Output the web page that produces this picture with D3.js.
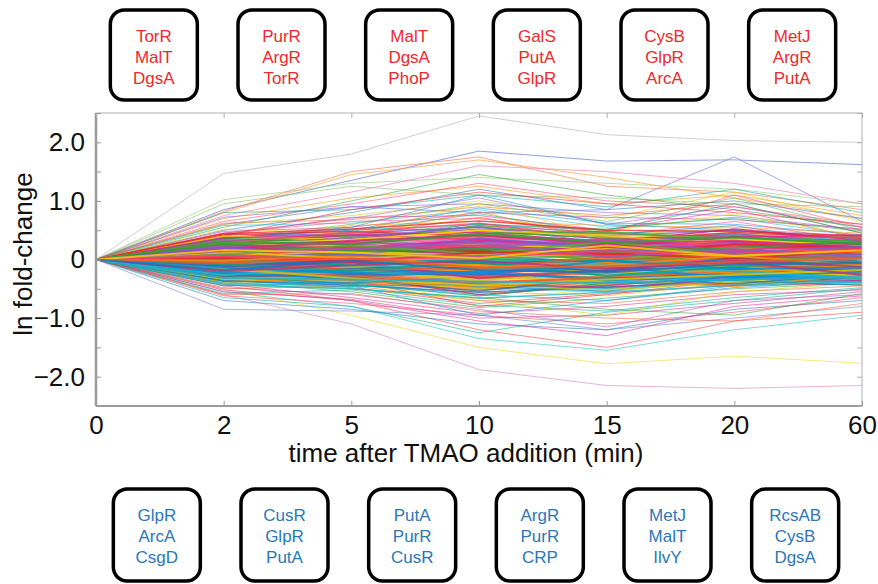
<!DOCTYPE html>
<html>
<head>
<meta charset="utf-8">
<script src="https://cdn.jsdelivr.net/npm/d3@7"></script>
<style>
html,body{margin:0;padding:0;background:#fff;}
svg{display:block;font-family:"Liberation Sans",Arial,sans-serif;}
</style>
</head>
<body>
<svg id="chart" width="878" height="584"></svg>
<script>
// ---- data ----
const timeLabels = ["0","2","5","10","15","20","60"];
const yTickValues = [-2.5,-2,-1.5,-1,-0.5,0,0.5,1,1.5,2,2.5];
const yTickLabels = {"-2":"\u22122.0","-1":"\u22121.0","0":"0","1":"1.0","2":"2.0"};
const xAxisTitle = "time after TMAO addition (min)";
const yAxisTitle = "ln fold-change";
const upRegulators = [
  ["TorR","MalT","DgsA"],["PurR","ArgR","TorR"],["MalT","DgsA","PhoP"],
  ["GalS","PutA","GlpR"],["CysB","GlpR","ArcA"],["MetJ","ArgR","PutA"]
];
const downRegulators = [
  ["GlpR","ArcA","CsgD"],["CusR","GlpR","PutA"],["PutA","PurR","CusR"],
  ["ArgR","PurR","CRP"],["MetJ","MalT","IlvY"],["RcsAB","CysB","DgsA"]
];
const palette = ["#e8202a","#1f6fc0","#2ca02c","#ff8c00","#e0208a","#17b8d0","#9b59b6","#d4c800",
                 "#ff3b6b","#0090e0","#58b030","#f05a28","#7a5cd0","#00a890","#ffd000","#c03080"];

// extreme profiles (ln fold-change at 0,2,5,10,15,20,60 min)
const extremeProfiles = [
  [0,1.47,1.80,2.45,2.13,2.03,2.00],
  [0,0.85,1.35,1.85,1.68,1.70,1.62],
  [0,0.60,0.90,0.80,0.85,1.75,0.65],
  [0,-0.60,-1.10,-1.88,-2.15,-2.20,-2.15],
  [0,-0.50,-0.95,-1.50,-1.78,-1.65,-1.77],
  [0,-0.55,-0.80,-1.35,-1.55,-1.20,-0.95],
  [0,-0.45,-0.70,-1.20,-1.50,-1.05,-0.90],
  [0,-0.85,-0.88,-0.95,-1.20,-1.00,-0.80],
  [0,1.02,1.30,1.40,1.30,1.20,0.95],
  [0,0.95,1.25,1.10,1.05,0.95,0.90],
  [0,0.82,1.50,1.75,1.25,1.15,0.85],
  [0,0.80,1.45,1.70,1.40,1.05,0.70],
  [0,0.75,1.15,1.60,1.50,1.30,0.95]
];
const extremeColors = ["#b8b8c8","#6070d0","#7080e0","#e090c0","#f0e040","#40c8c8","#f06060",
                       "#8090e0","#a0d080","#90c878","#f08060","#ffa040","#f080b0"];

const upperProfiles = [
  [0,0.70,1.05,1.25,0.95,1.10,0.75],[0,0.65,0.95,1.30,1.00,0.90,0.60],
  [0,0.80,0.85,1.10,0.90,1.20,0.80],[0,0.55,1.00,1.45,1.10,0.85,0.55],
  [0,0.60,0.75,1.00,0.70,1.15,0.65],[0,0.72,0.90,0.95,0.80,0.75,0.50],
  [0,0.50,0.80,1.20,0.85,1.00,0.70],[0,0.45,0.70,1.05,0.60,0.90,0.55],
  [0,0.62,0.68,0.90,0.75,0.95,0.45],[0,0.40,0.85,1.15,0.95,0.80,0.60],
  [0,0.58,0.62,0.85,0.55,0.70,0.40],[0,0.35,0.60,0.95,0.65,1.05,0.50],
  [0,0.48,0.55,0.80,0.72,0.68,0.52],[0,0.42,0.72,0.75,0.50,0.85,0.35],
  [0,0.38,0.50,0.88,0.62,0.60,0.42],[0,0.52,0.45,0.70,0.48,0.78,0.38],
  [0,0.30,0.58,0.65,0.58,0.55,0.45],[0,0.44,0.40,0.72,0.40,0.65,0.30],
  [0,0.25,0.48,0.78,0.45,0.50,0.36],[0,0.34,0.42,0.60,0.52,0.72,0.48],
  [0,0.28,0.35,0.55,0.38,0.46,0.28],[0,0.36,0.52,0.50,0.35,0.40,0.32],
  [0,0.22,0.30,0.62,0.42,0.58,0.25],[0,0.31,0.44,0.46,0.30,0.52,0.40],
  [0,0.26,0.38,0.42,0.28,0.35,0.22],[0,0.40,0.33,0.58,0.46,0.30,0.26],
  [0,0.18,0.28,0.40,0.34,0.44,0.30],[0,0.20,0.36,0.35,0.22,0.38,0.18],
  [0,0.29,0.25,0.48,0.36,0.28,0.24],[0,0.15,0.22,0.30,0.26,0.33,0.20],
  [0,0.35,0.55,1.10,0.60,0.50,0.30],[0,0.25,0.45,0.95,0.40,0.55,0.20],
  [0,0.30,0.40,0.82,0.30,0.45,0.25],[0,0.45,0.65,0.70,0.45,1.10,0.55],
  [0,0.35,0.50,0.60,0.50,0.95,0.45]
];

const lowerProfiles = [
  [0,-0.70,-0.85,-1.10,-1.20,-0.85,-0.70],[0,-0.62,-0.75,-0.95,-1.10,-0.90,-0.65],
  [0,-0.55,-0.68,-1.00,-0.95,-0.75,-0.55],[0,-0.48,-0.60,-0.85,-1.15,-0.70,-0.60],
  [0,-0.58,-0.52,-0.78,-0.88,-0.65,-0.48],[0,-0.42,-0.65,-0.92,-0.80,-0.60,-0.52],
  [0,-0.50,-0.45,-0.70,-0.75,-0.55,-0.45],[0,-0.38,-0.55,-0.82,-0.66,-0.50,-0.40],
  [0,-0.45,-0.40,-0.60,-0.70,-0.48,-0.36],[0,-0.35,-0.48,-0.75,-0.58,-0.44,-0.42],
  [0,-0.40,-0.36,-0.55,-0.62,-0.40,-0.34],[0,-0.32,-0.42,-0.68,-0.50,-0.38,-0.30],
  [0,-0.28,-0.38,-0.50,-0.55,-0.35,-0.28],[0,-0.36,-0.30,-0.45,-0.48,-0.32,-0.38],
  [0,-0.25,-0.33,-0.58,-0.42,-0.30,-0.25],[0,-0.30,-0.26,-0.40,-0.45,-0.28,-0.32],
  [0,-0.22,-0.28,-0.48,-0.36,-0.26,-0.22],[0,-0.27,-0.22,-0.36,-0.40,-0.24,-0.27],
  [0,-0.18,-0.24,-0.42,-0.32,-0.22,-0.20],[0,-0.24,-0.19,-0.32,-0.35,-0.20,-0.24],
  [0,-0.65,-0.80,-1.25,-0.90,-0.70,-0.50],[0,-0.52,-0.70,-1.05,-1.30,-0.80,-0.62],
  [0,-0.60,-0.58,-0.88,-1.00,-1.05,-0.75],[0,-0.44,-0.50,-0.65,-0.85,-0.95,-0.58],
  [0,-0.30,-0.45,-0.95,-0.70,-0.45,-0.30],[0,-0.20,-0.35,-0.80,-0.60,-0.35,-0.28],
  [0,-0.35,-0.50,-0.70,-0.95,-0.55,-0.40]
];

const middleProfiles = [
  [0,0.32,0.40,0.48,0.36,0.42,0.30],[0,-0.34,-0.38,-0.50,-0.42,-0.36,-0.32],
  [0,0.38,0.45,0.55,0.40,0.50,0.34],[0,-0.36,-0.44,-0.56,-0.46,-0.40,-0.36],
  [0,0.28,0.36,0.52,0.44,0.38,0.28],[0,-0.30,-0.40,-0.52,-0.38,-0.44,-0.30],
  [0,0.42,0.48,0.40,0.32,0.46,0.36],[0,-0.40,-0.46,-0.42,-0.50,-0.32,-0.40],
  [0,0.34,0.30,0.58,0.38,0.34,0.40],[0,-0.32,-0.28,-0.60,-0.44,-0.30,-0.36],
  [0,0.26,0.42,0.46,0.30,0.52,0.32],[0,-0.26,-0.36,-0.46,-0.54,-0.28,-0.34],
  [0,0.40,0.34,0.50,0.42,0.36,0.24],[0,-0.38,-0.32,-0.48,-0.36,-0.46,-0.26],
  [0,0.30,0.46,0.62,0.34,0.40,0.38],[0,-0.28,-0.42,-0.62,-0.40,-0.34,-0.28],
  [0,0.36,0.28,0.44,0.48,0.30,0.34],[0,-0.34,-0.26,-0.44,-0.52,-0.38,-0.42],
  [0,0.22,0.38,0.56,0.28,0.44,0.26],[0,-0.22,-0.34,-0.54,-0.30,-0.42,-0.24],
  [0,0.33,0.24,0.36,0.30,0.40,0.22],[0,-0.31,-0.24,-0.38,-0.34,-0.28,-0.22],
  [0,0.44,0.52,0.66,0.50,0.48,0.40],[0,-0.42,-0.50,-0.66,-0.56,-0.44,-0.38],
  [0,0.24,0.32,0.40,0.46,0.36,0.30],[0,-0.24,-0.30,-0.42,-0.48,-0.34,-0.30],
  [0,0.37,0.42,0.34,0.26,0.38,0.42],[0,-0.37,-0.40,-0.30,-0.30,-0.36,-0.44],
  [0,0.27,0.34,0.50,0.40,0.26,0.20],[0,-0.29,-0.36,-0.48,-0.34,-0.24,-0.20]
];

const coreProfiles = [
  [0,0.12,0.18,0.25,0.15,0.22,0.10],[0,-0.10,-0.15,-0.20,-0.12,-0.18,-0.08],
  [0,0.05,0.10,0.08,0.12,0.06,0.04],[0,-0.05,-0.02,-0.10,-0.06,-0.04,-0.12],
  [0,0.20,0.15,0.30,0.18,0.25,0.12],[0,-0.18,-0.22,-0.28,-0.20,-0.15,-0.18],
  [0,0.08,0.02,0.14,0.05,0.10,0.16],[0,-0.12,-0.08,-0.04,-0.16,-0.10,-0.02],
  [0,0.16,0.24,0.20,0.28,0.18,0.22],[0,-0.20,-0.14,-0.30,-0.24,-0.26,-0.16],
  [0,0.02,0.06,-0.04,0.02,0.08,-0.02],[0,-0.02,0.04,0.06,-0.05,0.02,0.06],
  [0,0.24,0.20,0.34,0.22,0.30,0.18],[0,-0.26,-0.20,-0.34,-0.28,-0.22,-0.26],
  [0,0.10,0.14,0.18,0.10,0.14,0.08],[0,-0.08,-0.12,-0.16,-0.10,-0.08,-0.14],
  [0,0.14,0.08,0.22,0.14,0.06,0.12],[0,-0.14,-0.06,-0.22,-0.18,-0.12,-0.06],
  [0,0.18,0.26,0.12,0.20,0.28,0.14],[0,-0.16,-0.24,-0.12,-0.22,-0.28,-0.20],
  [0,0.06,0.12,0.28,0.08,0.16,0.02],[0,-0.06,-0.10,-0.26,-0.08,-0.06,-0.04],
  [0,0.22,0.12,0.16,0.26,0.12,0.20],[0,-0.22,-0.16,-0.14,-0.26,-0.18,-0.22],
  [0,0.04,-0.02,0.10,0.04,-0.04,0.08],[0,-0.04,0.02,-0.08,0.00,0.04,-0.06],
  [0,0.28,0.22,0.26,0.18,0.34,0.24],[0,-0.28,-0.26,-0.24,-0.32,-0.24,-0.14],
  [0,0.11,0.20,0.32,0.24,0.20,0.14],[0,-0.11,-0.18,-0.36,-0.14,-0.20,-0.10],
  [0,0.17,0.10,0.04,0.12,0.18,0.06],[0,-0.17,-0.08,-0.02,-0.14,-0.16,-0.12],
  [0,0.09,0.16,0.12,0.20,0.10,0.18],[0,-0.09,-0.14,-0.18,-0.04,-0.12,-0.16],
  [0,0.26,0.30,0.22,0.30,0.24,0.28],[0,-0.24,-0.30,-0.20,-0.36,-0.30,-0.28],
  [0,0.13,0.04,0.20,0.16,0.08,0.00],[0,-0.13,-0.04,-0.12,-0.20,-0.02,-0.10],
  [0,0.03,0.08,0.16,-0.02,0.12,0.10],[0,-0.03,-0.06,0.02,-0.10,-0.08,0.00],
  [0,0.19,0.28,0.38,0.32,0.22,0.16],[0,-0.19,-0.28,-0.40,-0.30,-0.20,-0.24],
  [0,0.07,0.14,0.06,0.10,0.20,0.12],[0,-0.07,-0.16,-0.06,-0.02,-0.14,-0.18],
  [0,0.21,0.18,0.10,0.22,0.16,0.26],[0,-0.21,-0.12,-0.08,-0.24,-0.10,-0.30],
  [0,0.01,0.10,0.02,0.06,0.00,0.02],[0,-0.01,-0.08,0.00,-0.02,-0.06,-0.04],
  [0,0.15,0.22,0.14,0.08,0.26,0.20],[0,-0.15,-0.20,-0.10,-0.06,-0.24,-0.08],
  [0,0.23,0.16,0.24,0.34,0.14,0.08],[0,-0.23,-0.18,-0.22,-0.12,-0.32,-0.20],
  [0,0.10,0.06,0.36,0.20,0.04,0.10],[0,-0.10,-0.04,-0.32,-0.18,-0.02,-0.12],
  [0,0.27,0.14,0.18,0.12,0.20,0.30],[0,-0.27,-0.10,-0.16,-0.08,-0.20,-0.32],
  [0,0.05,0.20,0.24,0.06,0.14,-0.04],[0,-0.05,-0.18,-0.14,0.04,-0.10,-0.16],
  [0,0.12,0.02,0.08,0.18,0.04,0.14],[0,-0.12,0.00,-0.06,-0.20,0.02,-0.08],
  [0,0.18,0.32,0.42,0.26,0.32,0.20],[0,-0.16,-0.32,-0.44,-0.34,-0.26,-0.18],
  [0,0.08,0.24,0.10,0.30,0.08,0.06],[0,-0.08,-0.20,-0.04,-0.28,-0.12,-0.02],
  [0,0.02,-0.04,0.12,0.10,0.02,0.14],[0,-0.02,0.06,-0.12,-0.10,0.06,-0.10],
  [0,0.14,0.18,0.28,0.04,0.18,0.04],[0,-0.14,-0.22,-0.24,-0.02,-0.16,-0.14],
  [0,0.20,0.08,0.06,0.16,0.12,0.22],[0,-0.20,-0.10,-0.02,-0.16,-0.04,-0.26],
  [0,0.30,0.26,0.44,0.28,0.38,0.26],[0,-0.32,-0.34,-0.38,-0.40,-0.34,-0.30],
  [0,0.06,0.00,0.04,0.14,0.10,0.18],[0,-0.06,0.02,-0.14,-0.12,-0.04,0.02],
  [0,0.16,0.12,0.02,0.24,0.06,0.16],[0,-0.18,-0.02,-0.18,-0.22,-0.08,-0.06]
];

// ---- layout ----
const svg = d3.select("#chart");
const plot = {left:96, right:862, top:113, bottom:406};
const x = d3.scalePoint().domain(timeLabels).range([plot.left, plot.right]);
const y = d3.scaleLinear().domain([-2.5,2.5]).range([plot.bottom, plot.top]);
const font = '"Liberation Sans",Arial,sans-serif';

svg.append("defs").append("clipPath").attr("id","clip")
  .append("rect").attr("x",plot.left).attr("y",plot.top)
  .attr("width",plot.right-plot.left).attr("height",plot.bottom-plot.top);

const line = d3.line().x((d,i)=>x(timeLabels[i])).y(d=>y(d));
const lineLayer = svg.append("g").attr("clip-path","url(#clip)");

function drawSet(data, colorFn, width, opacity){
  lineLayer.append("g").selectAll("path").data(data).join("path")
    .attr("d", line).attr("fill","none")
    .attr("stroke", colorFn).attr("stroke-width", width)
    .attr("stroke-opacity", opacity).attr("stroke-linejoin","round");
}
drawSet(extremeProfiles, (d,i)=>extremeColors[i], 0.9, 0.75);
drawSet(upperProfiles, (d,i)=>palette[(i*5+3)%palette.length], 0.9, 0.6);
drawSet(lowerProfiles, (d,i)=>palette[(i*7+1)%palette.length], 0.9, 0.6);
drawSet(middleProfiles, (d,i)=>palette[(i*5+2)%palette.length], 1.4, 0.75);
drawSet(coreProfiles, (d,i)=>palette[(i*3)%palette.length], 2.0, 0.8);

// ---- frame & axes ----
const axisColor = "#9a9a9a";
svg.append("rect").attr("x",plot.left).attr("y",plot.top)
  .attr("width",plot.right-plot.left).attr("height",plot.bottom-plot.top)
  .attr("fill","none").attr("stroke","#b0b0b0").attr("stroke-width",1);
svg.append("line").attr("x1",plot.left).attr("x2",plot.left)
  .attr("y1",plot.top).attr("y2",plot.bottom)
  .attr("stroke",axisColor).attr("stroke-width",2.5);
svg.append("line").attr("x1",plot.left).attr("x2",plot.right)
  .attr("y1",plot.bottom).attr("y2",plot.bottom)
  .attr("stroke",axisColor).attr("stroke-width",2);

const tickLen = 5;
const yAxisL = d3.axisLeft(y).tickValues(yTickValues).tickSize(-tickLen)
  .tickFormat(d=>yTickLabels[String(d)] || "");
const gyl = svg.append("g").attr("transform",`translate(${plot.left},0)`).call(yAxisL);
gyl.select(".domain").remove();
gyl.selectAll(".tick line").attr("stroke",axisColor);
gyl.selectAll(".tick text").attr("x",-11).attr("font-size",26).attr("font-family",font)
  .attr("fill","#111");

const yAxisR = d3.axisRight(y).tickValues(yTickValues).tickSize(-tickLen).tickFormat("");
const gyr = svg.append("g").attr("transform",`translate(${plot.right},0)`).call(yAxisR);
gyr.select(".domain").remove();
gyr.selectAll(".tick line").attr("stroke","#b0b0b0");

const xAxisB = d3.axisBottom(x).tickSize(-tickLen);
const gxb = svg.append("g").attr("transform",`translate(0,${plot.bottom})`).call(xAxisB);
gxb.select(".domain").remove();
gxb.selectAll(".tick line").attr("stroke",axisColor);
gxb.selectAll(".tick text").attr("y",10).attr("dy","0.71em").attr("font-size",26)
  .attr("font-family",font).attr("fill","#111");

const xAxisT = d3.axisTop(x).tickSize(-tickLen).tickFormat("");
const gxt = svg.append("g").attr("transform",`translate(0,${plot.top})`).call(xAxisT);
gxt.select(".domain").remove();
gxt.selectAll(".tick line").attr("stroke","#b0b0b0");

svg.append("text").attr("x",466).attr("y",462)
  .attr("text-anchor","middle").attr("font-size",26).attr("font-family",font)
  .attr("fill","#111").text(xAxisTitle);
svg.append("text").attr("transform","translate(32,254) rotate(-90)")
  .attr("text-anchor","middle").attr("font-size",26).attr("font-family",font)
  .attr("fill","#111").text(yAxisTitle);

// ---- regulator boxes ----
function drawBoxes(groups, top, height, color, baseline0, shift){
  groups.forEach((names,i)=>{
    const cx = (x(timeLabels[i]) + x(timeLabels[i+1]))/2 + shift;
    const w = 87;
    const g = svg.append("g");
    g.append("rect").attr("x",cx-w/2).attr("y",top).attr("width",w).attr("height",height)
      .attr("rx",14).attr("ry",14).attr("fill","#fff")
      .attr("stroke","#000").attr("stroke-width",3.5);
    names.forEach((n,j)=>{
      g.append("text").attr("x",cx).attr("y",baseline0 + j*21)
        .attr("text-anchor","middle").attr("font-size",17).attr("font-family",font)
        .attr("fill",color).text(n);
    });
  });
}
drawBoxes(upRegulators, 10, 90, "#ee2a2a", 42, -6);
drawBoxes(downRegulators, 489, 92, "#2a78b8", 521, -3);
</script>
</body>
</html>
